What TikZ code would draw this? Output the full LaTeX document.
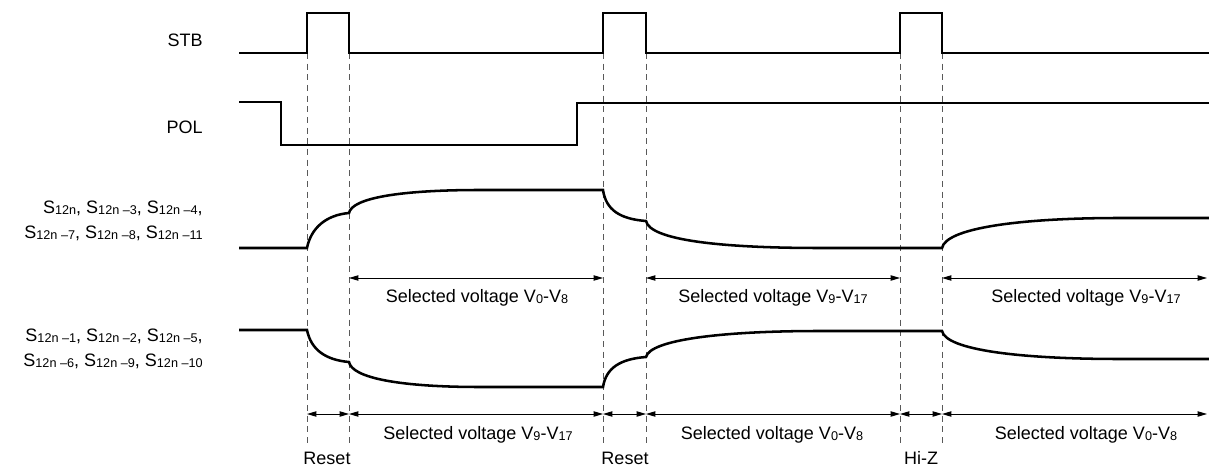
\documentclass[tikz,border=0pt]{standalone}
\usepackage{fontspec}
\setmainfont{Liberation Sans}
\usetikzlibrary{arrows.meta}
\newcommand\lsub[1]{\raisebox{-0.8pt}{\fontsize{9.5}{10}\selectfont #1}}
\begin{document}
\begin{tikzpicture}[x=0.75pt,y=-0.75pt,
  sig/.style={line width=1.9pt,line join=miter},
  guide/.style={draw=black!65,line width=0.6pt,dash pattern=on 4.5pt off 3.5pt},
  dim/.style={line width=0.7pt,{Triangle[length=7pt,width=4pt]}-{Triangle[length=7pt,width=4pt]}},
  lbl/.style={font=\fontsize{13.5}{18.5}\selectfont,inner sep=0pt}]
\useasboundingbox (0,0) rectangle (1209,470);
% guides
\foreach \xx/\nm in {307/a,349/b,603/c,646/d,900/e,942/f}{
  \coordinate (t\nm) at (\xx,53);
  \coordinate (b\nm) at (\xx,445);
  \draw[guide] (t\nm) -- (b\nm);
}
% STB
\node[lbl,anchor=east] (stb) at (203,40) {STB};
\draw[sig] (239,53) -- (307,53) -- (307,13) -- (349,13) -- (349,53) -- (603,53) -- (603,13) -- (646,13) -- (646,53)
  -- (900,53) -- (900,13) -- (942,13) -- (942,53) -- (1209,53);
% POL
\node[lbl,anchor=east] (pol) at (203,127) {POL};
\draw[sig] (239,102) -- (281,102) -- (281,145) -- (577,145) -- (577,103) -- (1209,103);
% upper S signal
\node[lbl,anchor=east,align=right] (sa) at (203,221) {S\lsub{12n}, S\lsub{12n –3}, S\lsub{12n –4},\\
S\lsub{12n –7}, S\lsub{12n –8}, S\lsub{12n –11}};
\draw[sig] (239,248) -- (307,248)
  .. controls (311,228) and (326,215) .. (349,213)
  .. controls (352,198) and (400,190) .. (480,190) -- (603,190)
  .. controls (606,210) and (620,219) .. (646,221)
  .. controls (650,240) and (720,248) .. (820,248) -- (942,248)
  .. controls (946,228) and (1020,218) .. (1120,218) -- (1209,218);
% lower S signal
\node[lbl,anchor=east,align=right] (sb) at (203,349) {S\lsub{12n –1}, S\lsub{12n –2}, S\lsub{12n –5},\\
S\lsub{12n –6}, S\lsub{12n –9}, S\lsub{12n –10}};
\draw[sig] (239,330) -- (307,330)
  .. controls (311,350) and (326,360) .. (349,362)
  .. controls (352,378) and (400,387) .. (480,387) -- (603,387)
  .. controls (606,368) and (620,359) .. (646,357)
  .. controls (650,340) and (720,331) .. (820,331) -- (942,331)
  .. controls (946,350) and (1020,359) .. (1120,359) -- (1209,359);
% upper dimension row
\coordinate (ub) at (349,278); \coordinate (uc) at (603,278);
\coordinate (ud) at (646,278); \coordinate (ue) at (900,278);
\coordinate (uf) at (942,278); \coordinate (uz) at (1207,278);
\draw[dim] (ub) -- (uc);
\draw[dim] (ud) -- (ue);
\draw[dim] (uf) -- (uz);
\node[lbl] (u1) at (477,298) {Selected voltage V\lsub{0}-V\lsub{8}};
\node[lbl] (u2) at (773,298) {Selected voltage V\lsub{9}-V\lsub{17}};
\node[lbl] (u3) at (1086,298) {Selected voltage V\lsub{9}-V\lsub{17}};
% lower dimension row
\coordinate (la) at (307,414); \coordinate (lb) at (349,414);
\coordinate (lc) at (603,414); \coordinate (ld) at (646,414);
\coordinate (le) at (900,414); \coordinate (lf) at (942,414);
\coordinate (lz) at (1207,414);
\draw[dim] (la) -- (lb);
\draw[dim] (lb) -- (lc);
\draw[dim] (lc) -- (ld);
\draw[dim] (ld) -- (le);
\draw[dim] (le) -- (lf);
\draw[dim] (lf) -- (lz);
\node[lbl] (l1) at (478,435) {Selected voltage V\lsub{9}-V\lsub{17}};
\node[lbl] (l2) at (772,435) {Selected voltage V\lsub{0}-V\lsub{8}};
\node[lbl] (l3) at (1086,435) {Selected voltage V\lsub{0}-V\lsub{8}};
\node[lbl] (r1) at (327,458) {Reset};
\node[lbl] (r2) at (625,458) {Reset};
\node[lbl] (hz) at (921,458) {Hi-Z};
\end{tikzpicture}
\end{document}
